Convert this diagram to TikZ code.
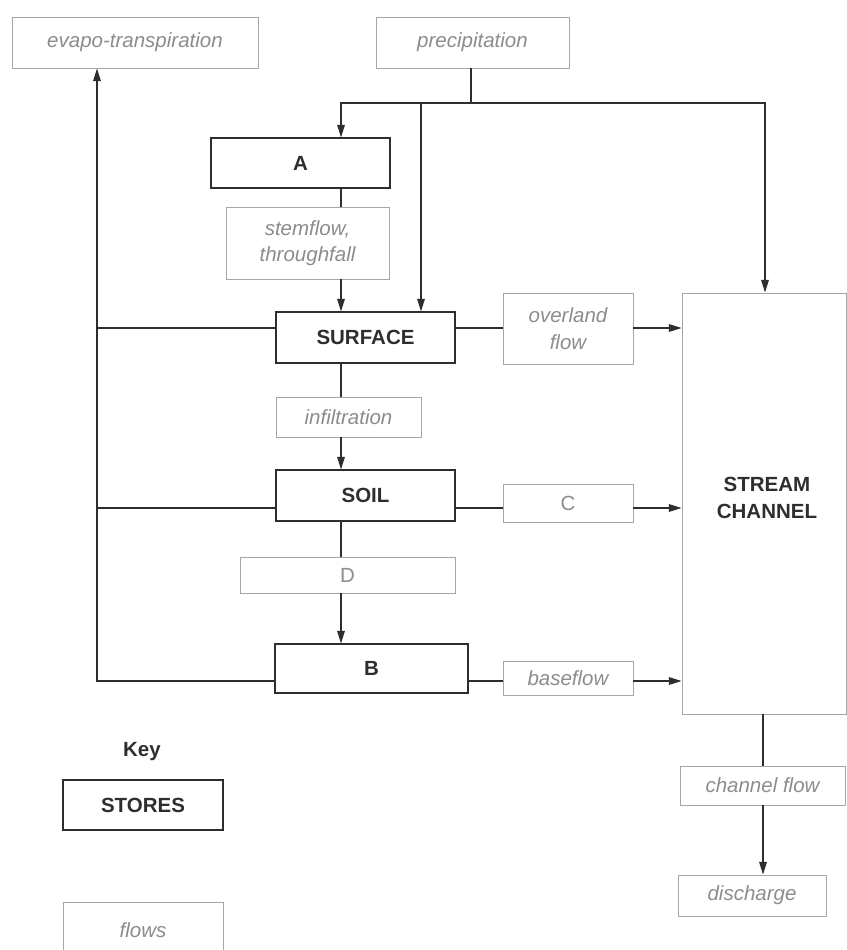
\documentclass[tikz,border=0pt]{standalone}
\usepackage{fontspec}
\setmainfont{Liberation Sans}
\usetikzlibrary{arrows.meta}
\definecolor{inkgray}{HTML}{2E2E2E}
\definecolor{flowgray}{HTML}{8C8C8C}
\definecolor{flowedge}{HTML}{A6A6A6}

\begin{document}
\begin{tikzpicture}[x=0.03cm,y=-0.03cm,
    every node/.style={font=\fontsize{17.5}{22.5}\selectfont, align=center, inner sep=0pt},
    store/.style={draw=inkgray, line width=0.95pt, text=inkgray, font=\fontsize{17.5}{22.5}\selectfont\bfseries},
    flow/.style={draw=flowedge, line width=0.8pt, text=flowgray, font=\fontsize{17.5}{22.5}\selectfont\itshape},
    link/.style={draw=inkgray, line width=0.9pt},
    go/.style={link, -{Triangle[length=3.8mm,width=2.3mm]}}]
    \useasboundingbox (0,0) rectangle (847,950);
    \clip (0,0) rectangle (847,950);

    % input and output
    \node[flow, minimum width=7.38cm, minimum height=1.53cm] (evap) at (135,42.5) {evapo-transpiration};
    \node[flow, minimum width=5.79cm, minimum height=1.53cm] (precip) at (472.5,42.5) {precipitation};

    % stores
    \node[store, minimum width=5.37cm, minimum height=1.5cm] (A) at (300.5,163) {A};
    \node[store, minimum width=5.37cm, minimum height=1.53cm] (surface) at (365.5,337.5) {SURFACE};
    \node[store, minimum width=5.37cm, minimum height=1.53cm] (soil) at (365.5,495.5) {SOIL};
    \node[store, minimum width=5.79cm, minimum height=1.47cm] (B) at (371.5,668.5) {B};
    \node[store, draw=flowedge, line width=0.8pt, minimum width=4.92cm, minimum height=12.63cm] (stream) at (764,503.5) {};
    \node[text=inkgray, font=\fontsize{17.5}{22.5}\selectfont\bfseries] (streamtxt) at (767,498) {STREAM\\CHANNEL};

    % flows
    \node[flow, minimum width=4.89cm, minimum height=2.16cm] (stem) at (307.5,243) {stemflow,\\throughfall};
    \node[flow, minimum width=3.9cm, minimum height=2.13cm] (overland) at (568,328.5) {overland\\flow};
    \node[flow, minimum width=4.35cm, minimum height=1.2cm] (infil) at (348.5,417) {infiltration};
    \node[flow, font=\fontsize{17.5}{22.5}\selectfont, minimum width=3.9cm, minimum height=1.14cm] (C) at (568,503) {C};
    \node[flow, font=\fontsize{17.5}{22.5}\selectfont, minimum width=6.45cm, minimum height=1.08cm] (D) at (347.5,575) {D};
    \node[flow, minimum width=3.9cm, minimum height=1.02cm] (base) at (568,678) {baseflow};
    \node[flow, minimum width=4.95cm, minimum height=1.17cm] (chflow) at (762.5,785.5) {channel flow};
    \node[flow, minimum width=4.44cm, minimum height=1.23cm] (discharge) at (752,895.5) {discharge};

    % key
    \node[text=inkgray, font=\fontsize{17.5}{22.5}\selectfont\bfseries] (key) at (142,752) {Key};
    \node[store, minimum width=4.8cm, minimum height=1.5cm] (keystore) at (143,805) {STORES};
    \node[flow, minimum width=4.8cm, minimum height=1.68cm] (keyflow) at (143,930) {flows};

    % precipitation split
    \coordinate (split) at (471,103);
    \coordinate (col) at (341,0);
    \coordinate (rain) at (421,0);
    \coordinate (sdrop) at (765,0);
    \draw[link] (precip.south -| split) -- (split);
    \draw[go] (split) -| (A.north -| col);
    \draw[go] (split) -| (stream.north -| sdrop);
    \draw[go] (split -| rain) -- (surface.north -| rain);

    % vertical chain
    \draw[link] (A.south -| col) -- (stem.north -| col);
    \draw[go] (stem.south -| col) -- (surface.north -| col);
    \draw[link] (surface.south -| col) -- (infil.north -| col);
    \draw[go] (infil.south -| col) -- (soil.north -| col);
    \draw[link] (soil.south -| col) -- (D.north -| col);
    \draw[go] (D.south -| col) -- (B.north -| col);

    % lateral flows
    \coordinate (ly1) at (97,328);
    \coordinate (ly2) at (97,508);
    \coordinate (ly3) at (97,681);
    \draw[link] (ly1 -| surface.east) -- (ly1 -| overland.west);
    \draw[go] (ly1 -| overland.east) -- (ly1 -| stream.west);
    \draw[link] (ly2 -| soil.east) -- (ly2 -| C.west);
    \draw[go] (ly2 -| C.east) -- (ly2 -| stream.west);
    \draw[link] (ly3 -| B.east) -- (ly3 -| base.west);
    \draw[go] (ly3 -| base.east) -- (ly3 -| stream.west);

    % evapo-transpiration return
    \draw[link] (ly1 -| surface.west) -- (ly1);
    \draw[link] (ly2 -| soil.west) -- (ly2);
    \draw[go] (ly3 -| B.west) -- (ly3) -- (evap.south -| ly3);

    % channel out
    \coordinate (sx) at (763,0);
    \draw[link] (stream.south -| sx) -- (chflow.north -| sx);
    \draw[go] (chflow.south -| sx) -- (discharge.north -| sx);
\end{tikzpicture}
\end{document}
